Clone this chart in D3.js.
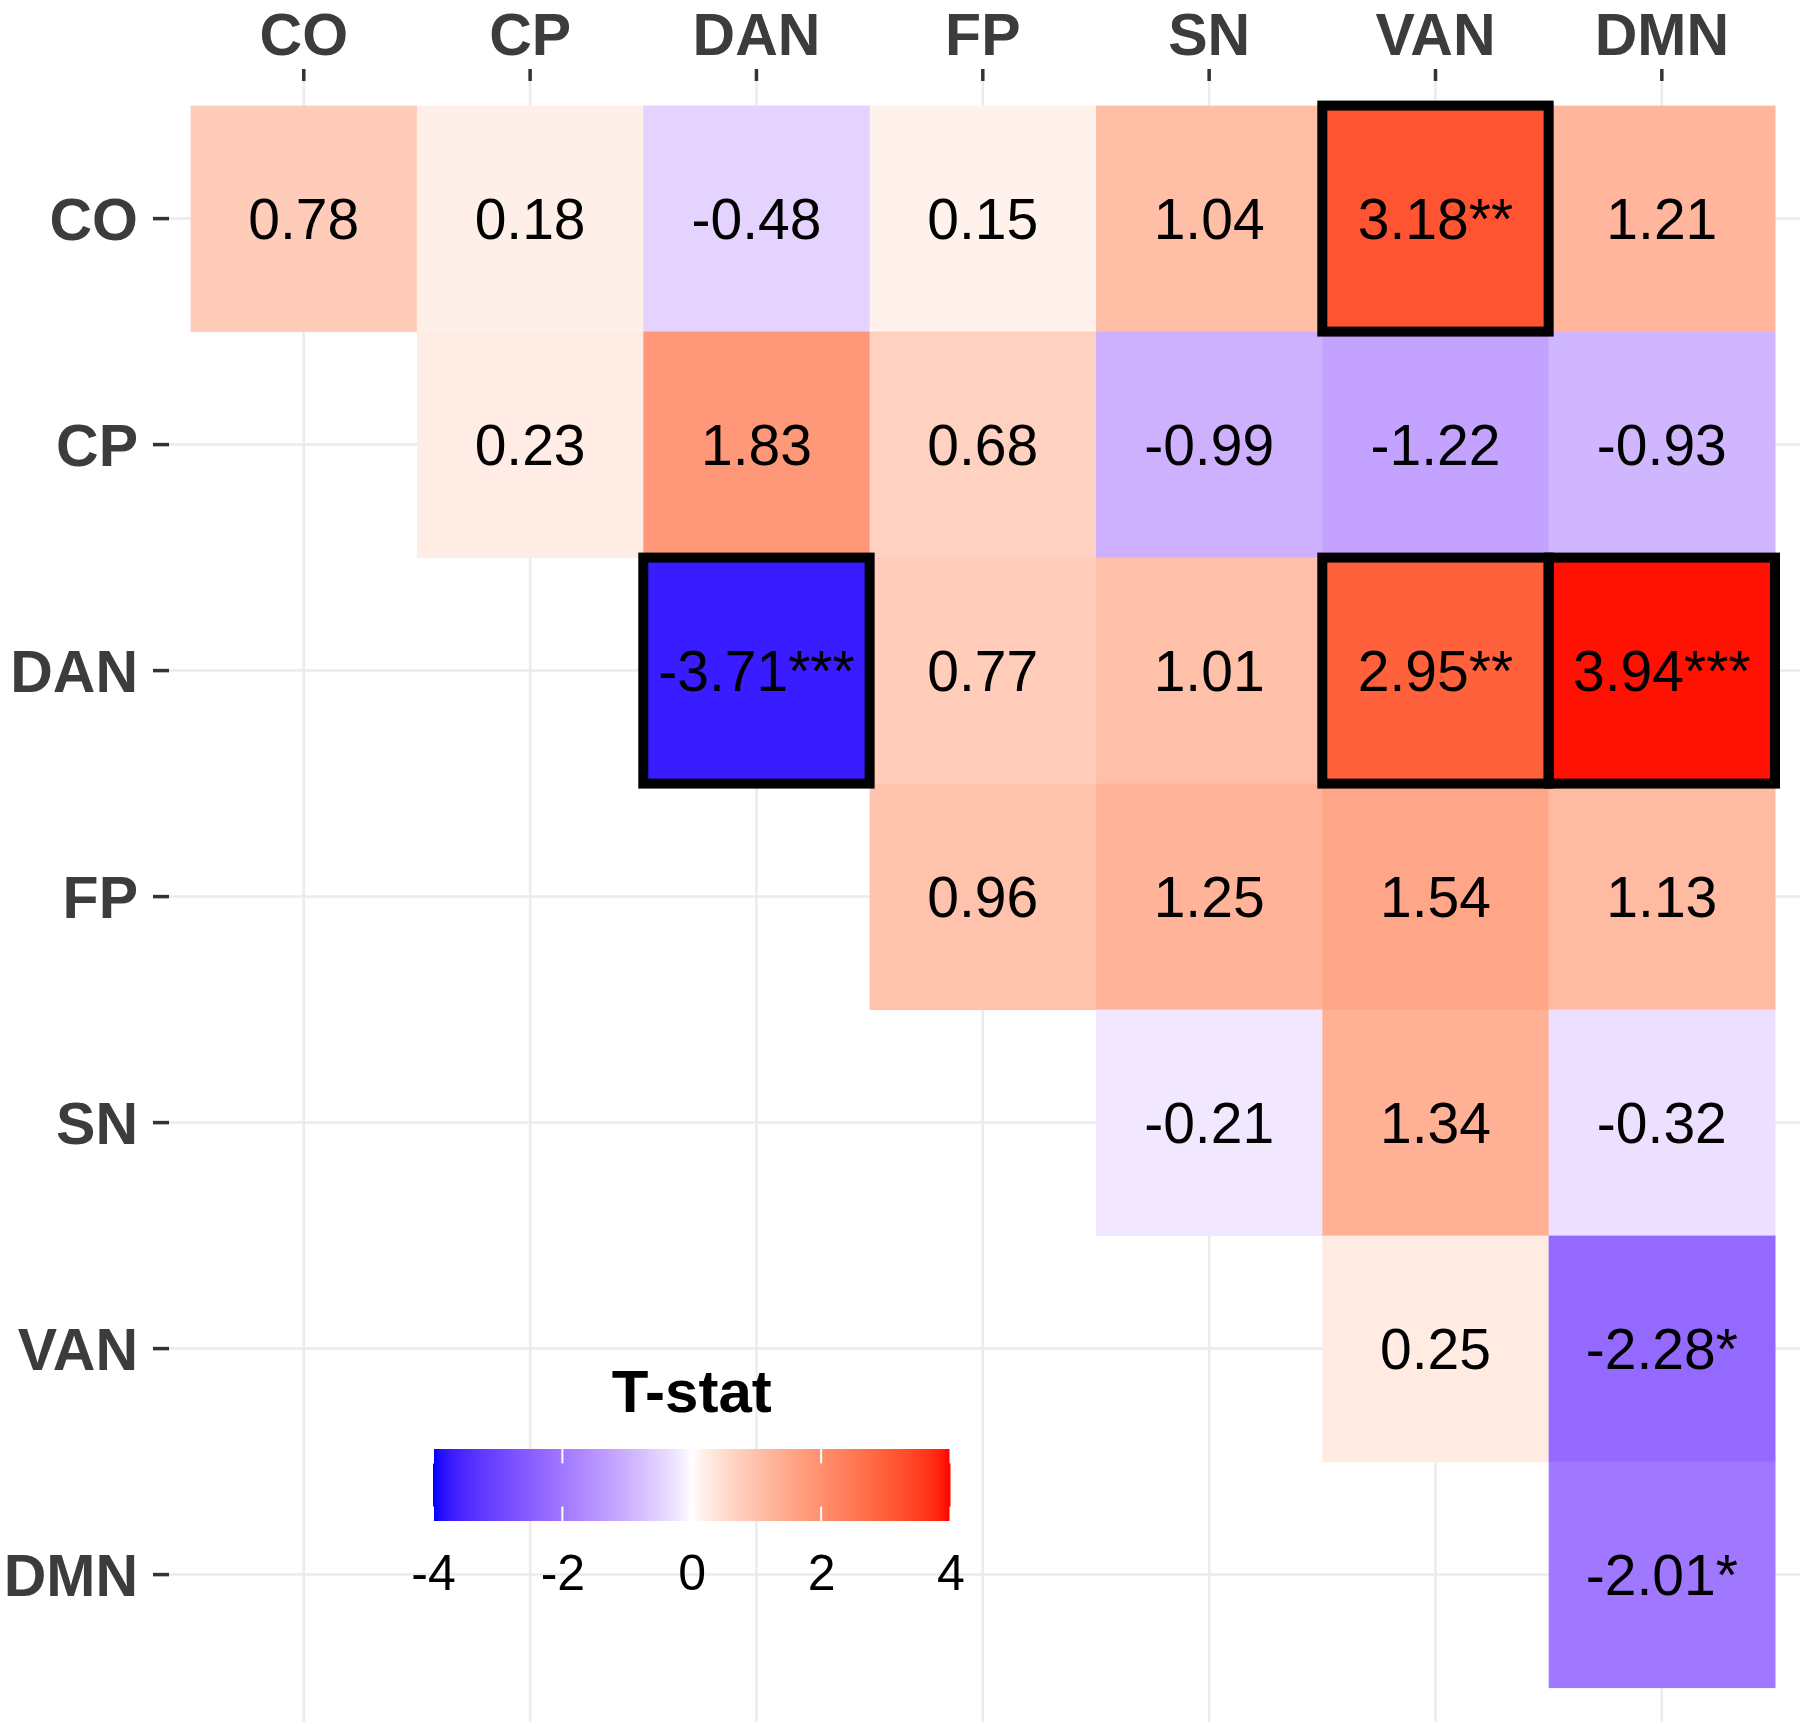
<!DOCTYPE html>
<html>
<head>
<meta charset="utf-8">
<script src="https://cdn.jsdelivr.net/npm/d3@7"></script>
<style>
  body { margin: 0; background: #fff; }
  text { font-family: "Liberation Sans", Arial, sans-serif; }
</style>
</head>
<body>
<div id="chart"></div>
<script>
// networks, in axis order
var networks = ["CO", "CP", "DAN", "FP", "SN", "VAN", "DMN"];

// t-statistics, upper triangle (row i starts at column i)
var tCO  = [0.78, 0.18, -0.48, 0.15, 1.04, 3.18, 1.21];
var tCP  = [0.23, 1.83, 0.68, -0.99, -1.22, -0.93];
var tDAN = [-3.71, 0.77, 1.01, 2.95, 3.94];
var tFP  = [0.96, 1.25, 1.54, 1.13];
var tSN  = [-0.21, 1.34, -0.32];
var tVAN = [0.25, -2.28];
var tDMN = [-2.01];

// significance stars, same layout
var sCO  = ["", "", "", "", "", "**", ""];
var sCP  = ["", "", "", "", "", ""];
var sDAN = ["***", "", "", "**", "***"];
var sFP  = ["", "", "", ""];
var sSN  = ["", "", ""];
var sVAN = ["", "*"];
var sDMN = ["*"];

var legendTicks = [-4, -2, 0, 2, 4];

var tRows = [tCO, tCP, tDAN, tFP, tSN, tVAN, tDMN];
var sRows = [sCO, sCP, sDAN, sFP, sSN, sVAN, sDMN];

var cells = [];
tRows.forEach(function (row, i) {
    row.forEach(function (v, k) {
        var j = i + k;
        cells.push({ row: networks[i], col: networks[j], value: v, stars: sRows[i][k] });
    });
});

var W = 1800, H = 1724;
var panel = { left: 169, right: 1800, top: 81, bottom: 1722 };

var svg = d3.select("#chart").append("svg")
    .attr("width", W)
    .attr("height", H);

var x = d3.scaleBand().domain(networks).range([190.6, 1775]);
var y = d3.scaleBand().domain(networks).range([105.6, 1687.6]);

// blue - white - red, Lab interpolation
var toBlue = d3.interpolateLab("white", "blue");
var toRed = d3.interpolateLab("white", "red");
var color = d3.scaleDivergingPow()
    .exponent(0.8)
    .domain([-4, 0, 4])
    .clamp(true)
    .interpolator(function (t) {
        return t < 0.5 ? toBlue((0.5 - t) * 2) : toRed((t - 0.5) * 2);
    });

// grid
var grid = svg.append("g");
grid.selectAll(".vgrid")
    .data(networks)
    .enter().append("line")
    .attr("x1", function (d) { return x(d) + x.bandwidth() / 2; })
    .attr("x2", function (d) { return x(d) + x.bandwidth() / 2; })
    .attr("y1", panel.top)
    .attr("y2", panel.bottom)
    .attr("stroke", "#ebebeb")
    .attr("stroke-width", 2.5);
grid.selectAll(".hgrid")
    .data(networks)
    .enter().append("line")
    .attr("y1", function (d) { return y(d) + y.bandwidth() / 2; })
    .attr("y2", function (d) { return y(d) + y.bandwidth() / 2; })
    .attr("x1", panel.left)
    .attr("x2", panel.right)
    .attr("stroke", "#ebebeb")
    .attr("stroke-width", 2.5);

// tiles
svg.append("g").selectAll("rect")
    .data(cells)
    .enter().append("rect")
    .attr("x", function (d) { return x(d.col); })
    .attr("y", function (d) { return y(d.row); })
    .attr("width", x.bandwidth() + 0.5)
    .attr("height", y.bandwidth() + 0.5)
    .attr("fill", function (d) { return color(d.value); });

// borders around ** and *** cells
svg.append("g").selectAll("rect")
    .data(cells.filter(function (d) { return d.stars.length >= 2; }))
    .enter().append("rect")
    .attr("x", function (d) { return x(d.col); })
    .attr("y", function (d) { return y(d.row); })
    .attr("width", x.bandwidth())
    .attr("height", y.bandwidth())
    .attr("fill", "none")
    .attr("stroke", "#000")
    .attr("stroke-width", 10);

// cell labels
svg.append("g").selectAll("text")
    .data(cells)
    .enter().append("text")
    .attr("x", function (d) { return x(d.col) + x.bandwidth() / 2; })
    .attr("y", function (d) { return y(d.row) + y.bandwidth() / 2; })
    .attr("dy", "0.36em")
    .attr("text-anchor", "middle")
    .attr("font-size", "57px")
    .attr("fill", "#000")
    .text(function (d) { return d.value.toFixed(2) + d.stars; });

// axes
var xAxis = svg.append("g")
    .attr("transform", "translate(0," + panel.top + ")")
    .call(d3.axisTop(x).tickSize(12).tickPadding(14));
var yAxis = svg.append("g")
    .attr("transform", "translate(" + panel.left + ",0)")
    .call(d3.axisLeft(y).tickSize(16).tickPadding(15));

[xAxis, yAxis].forEach(function (a) {
    a.select(".domain").remove();
    a.selectAll(".tick line").attr("stroke", "#333").attr("stroke-width", 3.5);
    a.selectAll(".tick text")
        .attr("font-size", "59px")
        .attr("font-weight", "bold")
        .attr("font-family", "Liberation Sans, Arial, sans-serif")
        .attr("fill", "#3c3c3c");
});
yAxis.selectAll(".tick text").attr("dy", "0.36em");

// legend
var lx = d3.scaleLinear().domain([-4, 4]).range([433, 950.5]);
var barTop = 1449, barH = 72;

var defs = svg.append("defs");
var grad = defs.append("linearGradient").attr("id", "tgrad");
d3.range(0, 1.0001, 0.02).forEach(function (t) {
    grad.append("stop")
        .attr("offset", (t * 100) + "%")
        .attr("stop-color", color(-4 + 8 * t));
});

var legend = svg.append("g");
legend.append("text")
    .attr("x", (lx(-4) + lx(4)) / 2)
    .attr("y", 1412)
    .attr("text-anchor", "middle")
    .attr("font-size", "60px")
    .attr("font-weight", "bold")
    .attr("fill", "#000")
    .text("T-stat");

legend.append("rect")
    .attr("x", lx(-4))
    .attr("y", barTop)
    .attr("width", lx(4) - lx(-4))
    .attr("height", barH)
    .attr("fill", "url(#tgrad)");

// white ticks inside the bar
legendTicks.forEach(function (v) {
    legend.append("line")
        .attr("x1", lx(v)).attr("x2", lx(v))
        .attr("y1", barTop).attr("y2", barTop + barH / 5)
        .attr("stroke", "#fff").attr("stroke-width", 2);
    legend.append("line")
        .attr("x1", lx(v)).attr("x2", lx(v))
        .attr("y1", barTop + barH - barH / 5).attr("y2", barTop + barH)
        .attr("stroke", "#fff").attr("stroke-width", 2);
});

var lAxis = legend.append("g")
    .attr("transform", "translate(0," + (barTop + barH) + ")")
    .call(d3.axisBottom(lx).tickValues(legendTicks).tickSize(0).tickPadding(33)
        .tickFormat(function (d) { return d; }));
lAxis.select(".domain").remove();
lAxis.selectAll(".tick text")
    .attr("font-size", "50px")
    .attr("font-family", "Liberation Sans, Arial, sans-serif")
    .attr("fill", "#000");
</script>
</body>
</html>
